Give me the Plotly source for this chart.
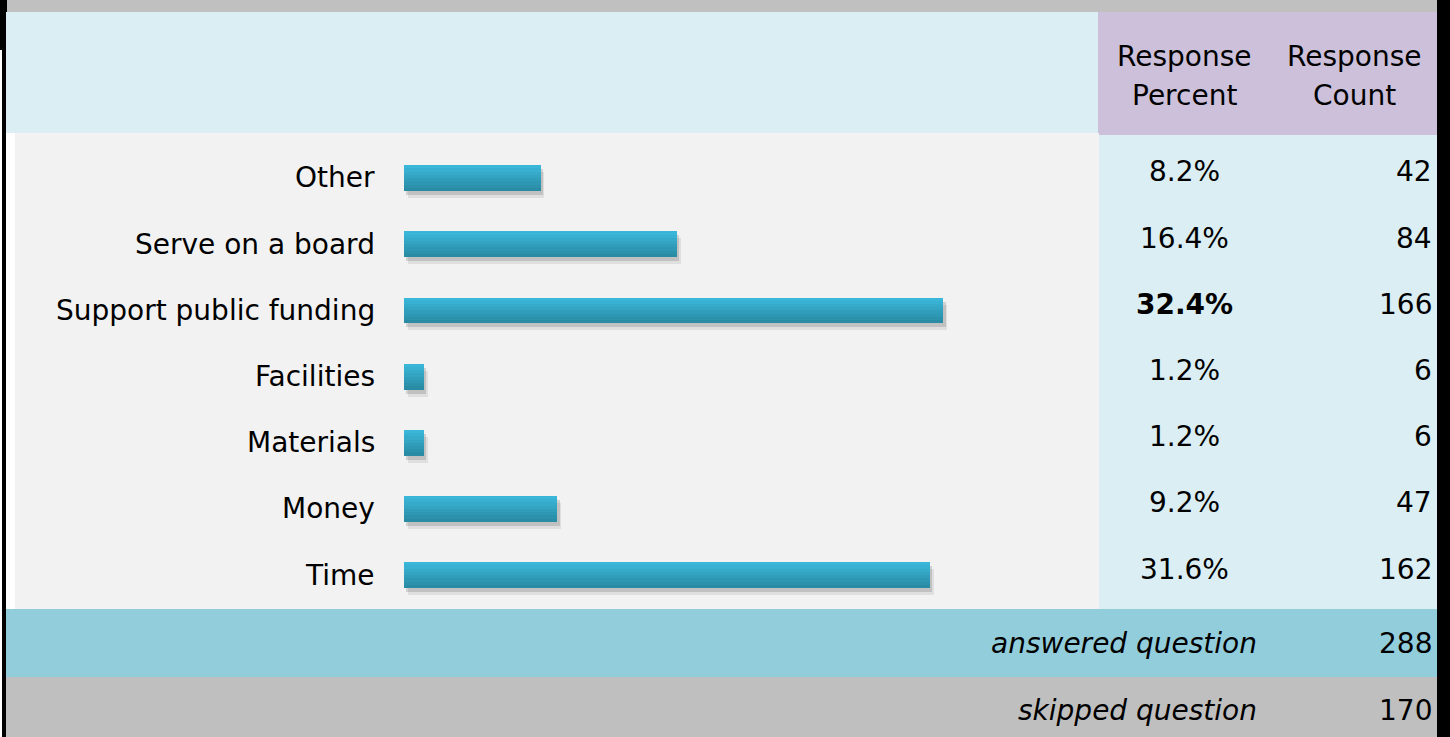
import plotly.graph_objects as go

# ---------------- data ----------------
categories = ["Other", "Serve on a board", "Support public funding",
              "Facilities", "Materials", "Money", "Time"]
percents = [8.2, 16.4, 32.4, 1.2, 1.2, 9.2, 31.6]
counts = [42, 84, 166, 6, 6, 47, 162]
header_percent = ["Response", "Percent"]
header_count = ["Response", "Count"]
answered_label = "answered question"
answered_count = 288
skipped_label = "skipped question"
skipped_count = 170

# ---------------- geometry helpers (pixels -> paper) ----------------
W, H = 1450, 737
def px(x):
    return x / W
def py(y):
    return 1 - y / H

FONT = "DejaVu Sans"
FS = 28

fig = go.Figure()

# bar geometry in category units
bw = 0.39
row_px = 66.17
def units(p):
    return p / row_px

# shadows (below bars)
for dy, alpha, ext in [(7, 0.10, 0.22), (4, 0.18, 0.14)]:
    fig.add_trace(go.Bar(
        y=categories, x=percents, orientation="h", base=ext,
        width=bw, offset=-bw / 2 + units(dy),
        marker=dict(color=f"rgba(60,60,60,{alpha})", line=dict(width=0)),
        hoverinfo="skip", showlegend=False))

# gradient strips
top = (57, 182, 216)
bot = (42, 139, 164)
N = 8
for i in range(N):
    t = i / (N - 1)
    c = tuple(round(top[k] + (bot[k] - top[k]) * t) for k in range(3))
    fig.add_trace(go.Bar(
        y=categories, x=percents, orientation="h",
        width=bw / N + 0.002, offset=-bw / 2 + i * bw / N,
        marker=dict(color=f"rgb{c}", line=dict(width=0)),
        hoverinfo="skip", showlegend=False))

# ---------------- background shapes ----------------
def rect(x0, y0, x1, y1, color):
    return dict(type="rect", xref="paper", yref="paper",
                x0=px(x0), x1=px(x1), y0=py(y1), y1=py(y0),
                fillcolor=color, line=dict(width=0), layer="below")

shapes = [
    rect(0, 0, 7, 50, "#000000"),
    rect(2, 0, 6, 737, "#000000"),
    rect(1437, 0, 1450, 737, "#000000"),
    rect(7, 0, 1437, 12, "#C0C0C0"),
    rect(6, 12, 1098, 133, "#DAEEF3"),
    rect(1098, 12, 1437, 135, "#CCC0DA"),
    rect(15, 133, 1099, 609, "#F2F2F2"),
    rect(1099, 135, 1437, 609, "#DAEEF3"),
    rect(6, 609, 1437, 677, "#92CDDC"),
    rect(6, 677, 1437, 737, "#BFBFBF"),
]

# ---------------- annotations ----------------
ann = []
maxp = max(percents)
for cat, p, n in zip(categories, percents, counts):
    ann.append(dict(text=cat, xref="paper", x=px(377), yref="y", y=cat,
                    xanchor="right", yanchor="middle", showarrow=False,
                    font=dict(family=FONT, size=FS, color="#000000")))
    ptxt = f"{p:.1f}%"
    if p == maxp:
        ptxt = f"<b>{ptxt}</b>"
    ann.append(dict(text=ptxt, xref="paper", x=px(1184), yref="y", y=cat,
                    xanchor="center", yanchor="middle", yshift=6, showarrow=False,
                    font=dict(family=FONT, size=FS, color="#000000")))
    ann.append(dict(text=str(n), xref="paper", x=px(1434), yref="y", y=cat,
                    xanchor="right", yanchor="middle", yshift=6, showarrow=False,
                    font=dict(family=FONT, size=FS, color="#000000")))

for xc, lines in [(1184, header_percent), (1354, header_count)]:
    for yc, t in zip([57, 96], lines):
        ann.append(dict(text=t, xref="paper", x=px(xc), yref="paper", y=py(yc),
                        xanchor="center", yanchor="middle", showarrow=False,
                        font=dict(family=FONT, size=FS, color="#000000")))

for yc, lab, n in [(643, answered_label, answered_count),
                   (710, skipped_label, skipped_count)]:
    ann.append(dict(text=f"<i>{lab}</i>", xref="paper", x=px(1259), yref="paper",
                    y=py(yc), xanchor="right", yanchor="middle", showarrow=False,
                    font=dict(family=FONT, size=FS, color="#000000")))
    ann.append(dict(text=str(n), xref="paper", x=px(1434), yref="paper",
                    y=py(yc), xanchor="right", yanchor="middle", showarrow=False,
                    font=dict(family=FONT, size=FS, color="#000000")))

# ---------------- layout ----------------
x_range_max = (1099 - 404) / 16.65
fig.update_layout(
    width=W, height=H, margin=dict(l=0, r=0, t=0, b=0),
    paper_bgcolor="#FFFFFF", plot_bgcolor="rgba(0,0,0,0)",
    barmode="overlay", bargap=0, showlegend=False,
    shapes=shapes, annotations=ann,
    xaxis=dict(domain=[px(404), px(1099)], range=[0, x_range_max],
               visible=False, fixedrange=True),
    yaxis=dict(domain=[py(608.1), py(144.9)], type="category",
               categoryorder="array", categoryarray=categories,
               autorange="reversed", visible=False, fixedrange=True),
)

fig.write_html("out.html", config={"displayModeBar": False},
               post_script="document.body.style.margin='0';")
